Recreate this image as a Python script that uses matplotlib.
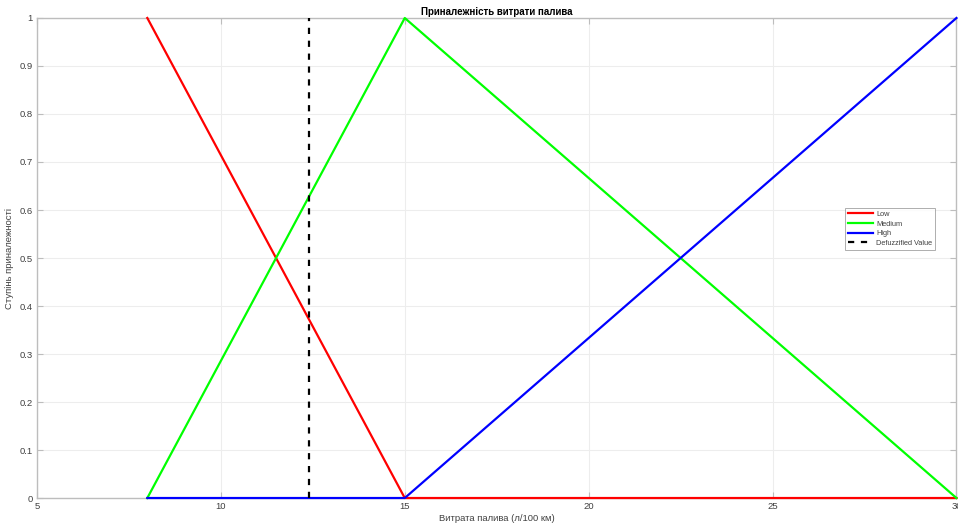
import matplotlib
matplotlib.use("Agg")
import matplotlib.pyplot as plt

# Fuel consumption membership functions
x_pts = [8, 15, 30]
low = [1, 0, 0]
medium = [0, 1, 0]
high = [0, 0, 1]
defuzz_x = 12.4
y_ticks = [0, 0.1, 0.2, 0.3, 0.4, 0.5, 0.6, 0.7, 0.8, 0.9, 1]
y_tick_labels = ["0", "0.1", "0.2", "0.3", "0.4", "0.5", "0.6", "0.7", "0.8", "0.9", "1"]
x_ticks = [5, 10, 15, 20, 25, 30]

plt.rcParams['font.family'] = ['Liberation Sans', 'DejaVu Sans']

fig = plt.figure(figsize=(9.58, 5.26), dpi=100)
ax = fig.add_axes([0.0386, 0.0532, 0.9598, 0.9126])

ax.plot(x_pts, low, color=(1, 0, 0), lw=1.6, label="Low", clip_on=False, zorder=3)
ax.plot(x_pts, medium, color=(0, 1, 0), lw=1.6, label="Medium", clip_on=False, zorder=3)
ax.plot(x_pts, high, color=(0, 0, 1), lw=1.6, label="High", clip_on=False, zorder=3)
ax.plot([defuzz_x, defuzz_x], [0, 1], color="black", lw=1.6,
        linestyle=(0, (2.8, 3.0)), label="Defuzzified Value", zorder=3)

ax.set_xlim(5, 30)
ax.set_ylim(0, 1)
ax.set_xticks(x_ticks)
ax.set_yticks(y_ticks)
ax.set_yticklabels(y_tick_labels)

ax.grid(True, color="#ededed", lw=0.8)
ax.set_axisbelow(True)
for s in ax.spines.values():
    s.set_color("#bdbdbd")
    s.set_linewidth(1.0)
ax.tick_params(direction="in", length=4, width=0.8, color="#bdbdbd",
               labelsize=6.8, labelcolor="#404040", top=True, right=True, pad=3)

ax.set_title("Приналежність витрати палива", fontsize=7, fontweight="bold", pad=2.5)
ax.set_xlabel("Витрата палива (л/100 км)", fontsize=6.8, color="#404040", labelpad=2)
ax.set_ylabel("Ступінь приналежності", fontsize=6.8, color="#404040", labelpad=4)

leg = ax.legend(loc="upper left", bbox_to_anchor=(0.879, 0.604), fontsize=5.3,
                frameon=True, fancybox=False, edgecolor="#999999",
                handlelength=3.4, handletextpad=0.5, borderpad=0.35,
                labelspacing=0.35, borderaxespad=0)
leg.get_frame().set_linewidth(0.7)
leg.set_zorder(5)
for t in leg.get_texts():
    t.set_color("#404040")

fig.savefig("out.png", dpi=100)
